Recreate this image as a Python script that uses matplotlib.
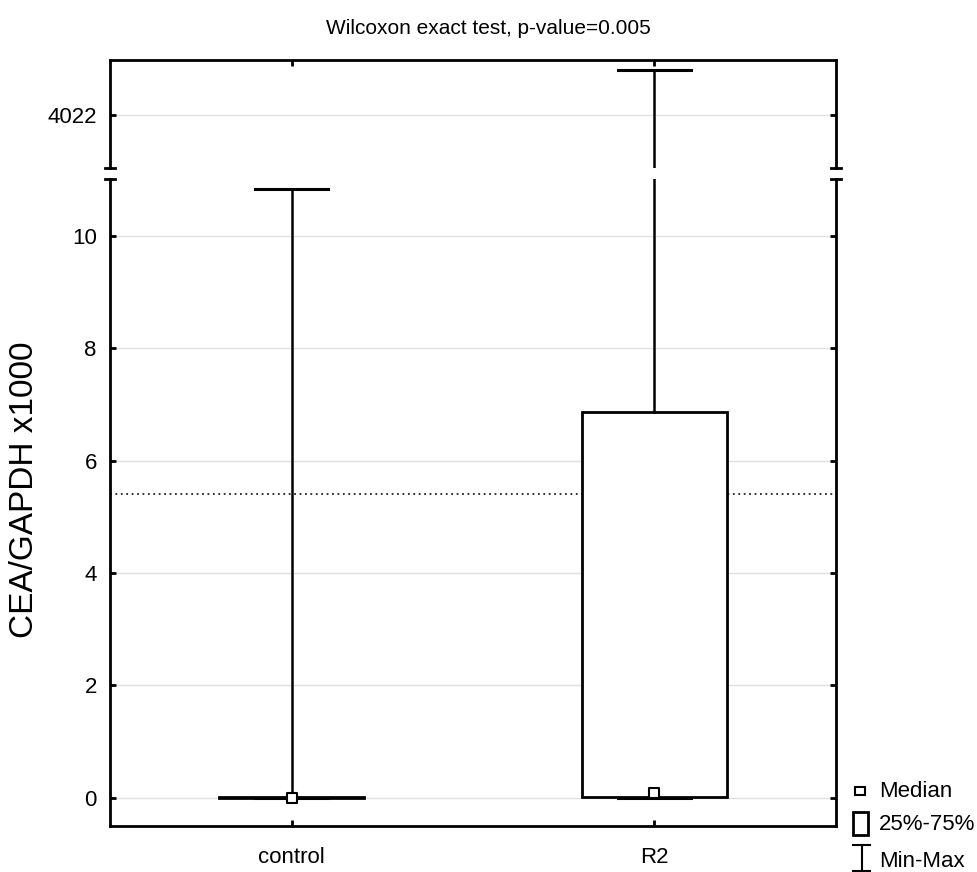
import matplotlib
matplotlib.use("Agg")
import matplotlib.pyplot as plt
from matplotlib.patches import Rectangle
from matplotlib.lines import Line2D

plt.rcParams['font.family'] = ['Liberation Sans', 'DejaVu Sans']

# data
groups = ['control', 'R2']
mins = [0.0, 0.0]
q1 = [0.0, 0.02]
medians = [0.0, 0.09]
q3 = [0.02, 6.87]
maxs = [10.84, 4022.8]
ref_line = 5.41
low_ticks = [0, 2, 4, 6, 8, 10]
high_ticks = [4022]

stats = []
for i, g in enumerate(groups):
    stats.append(dict(label=g, whislo=mins[i], q1=q1[i], med=medians[i],
                      q3=q3[i], whishi=maxs[i], fliers=[]))

fig = plt.figure(figsize=(9.77, 8.72), dpi=100)
W, H = 977, 872
def box(l, t, r, b):
    return [l / W, 1 - b / H, (r - l) / W, (b - t) / H]

ax_top = fig.add_axes(box(110, 60, 836, 168))
ax_bot = fig.add_axes(box(110, 179, 836, 826))

pos = [1, 2]
for ax in (ax_top, ax_bot):
    ax.axhline(ref_line, color='#222222', lw=1.3, ls=(0, (1, 2)), zorder=1)
    ax.bxp(stats, positions=pos, widths=0.4, showfliers=False, patch_artist=True,
           boxprops=dict(facecolor='white', edgecolor='black', linewidth=2),
           whiskerprops=dict(color='black', linewidth=1.8),
           capprops=dict(color='black', linewidth=2.2),
           medianprops=dict(linewidth=0), capwidths=0.2, zorder=3)
    ax.scatter(pos, medians, marker='s', s=50, facecolor='white',
               edgecolor='black', linewidth=1.5, zorder=4)
    ax.set_xlim(0.5, 2.5)
    ax.grid(axis='y', color='#e0e0e0', lw=1, zorder=0)
    ax.set_axisbelow(True)
    for s in ax.spines.values():
        s.set_linewidth(2)
    ax.tick_params(direction='in', length=4, width=2, labelsize=16,
                   left=True, right=True, top=True, bottom=True)
    ax.tick_params(axis='y', pad=9.5)
    ax.tick_params(axis='x', pad=15)

ax_bot.set_ylim(-0.5, 11.01)
ax_bot.set_yticks(low_ticks)
ax_bot.set_xticks(pos)
ax_bot.set_xticklabels(groups)
ax_bot.spines['top'].set_visible(False)
ax_bot.tick_params(top=False)

ax_top.set_ylim(4021.06, 4022.98)
ax_top.set_yticks(high_ticks)
ax_top.set_xticks(pos)
ax_top.tick_params(labelbottom=False, bottom=False)
ax_top.spines['bottom'].set_visible(False)

# break marks on the spines
for x in (110, 836):
    for y in (168, 179):
        fig.add_artist(Line2D([(x - 5) / W, (x + 5) / W], [1 - y / H, 1 - y / H],
                              color='black', lw=2))

fig.text(0.5, 1 - 28 / H, 'Wilcoxon exact test, p-value=0.005',
         ha='center', va='center', fontsize=15)
fig.text(25 / W, 1 - 490 / H, 'CEA/GAPDH x1000', rotation=90,
         ha='center', va='center', fontsize=24)

# legend
fig.add_artist(Rectangle((855 / W, 1 - 795 / H), 10 / W, 8 / H,
                         facecolor='white', edgecolor='black', lw=1.5))
fig.text(879 / W, 1 - 791 / H, 'Median', va='center', fontsize=16)
fig.add_artist(Rectangle((853 / W, 1 - 835 / H), 15 / W, 23 / H,
                         facecolor='white', edgecolor='black', lw=2))
fig.text(879 / W, 1 - 824 / H, '25%-75%', va='center', fontsize=16)
fig.add_artist(Line2D([862 / W, 862 / W], [1 - 845 / H, 1 - 871 / H], color='black', lw=1.5))
fig.add_artist(Line2D([853 / W, 870 / W], [1 - 845 / H, 1 - 845 / H], color='black', lw=1.5))
fig.add_artist(Line2D([853 / W, 870 / W], [1 - 871 / H, 1 - 871 / H], color='black', lw=1.5))
fig.text(879 / W, 1 - 861 / H, 'Min-Max', va='center', fontsize=16)

fig.savefig('out.png', dpi=100)
